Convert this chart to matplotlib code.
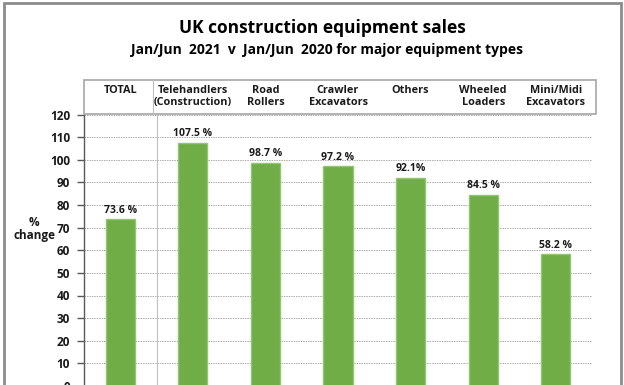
import matplotlib
matplotlib.use("Agg")
import matplotlib.pyplot as plt
from matplotlib.patches import Rectangle
from matplotlib.lines import Line2D

categories = ["TOTAL", "Telehandlers\n(Construction)", "Road\nRollers", "Crawler\nExcavators",
              "Others", "Wheeled\nLoaders", "Mini/Midi\nExcavators"]
values = [73.6, 107.5, 98.7, 97.2, 92.1, 84.5, 58.2]
value_labels = ["73.6 %", "107.5 %", "98.7 %", "97.2 %", "92.1%", "84.5 %", "58.2 %"]
yticks = list(range(0, 121, 10))

W, H = 624, 385
plt.rcParams['font.family'] = ['Open Sans', 'DejaVu Sans']
fig = plt.figure(figsize=(W / 100, H / 100), dpi=100)

def fx(px):
    return px / W

def fy(py):
    return 1 - py / H

ax_left, ax_right = 84, 592
ax_top, ax_bot = 114.5, 386
ax = fig.add_axes([fx(ax_left), fy(ax_bot), fx(ax_right - ax_left), (ax_bot - ax_top) / H])

x = list(range(len(categories)))
ax.bar(x, values, width=0.4, color="#70AD47", edgecolor="#93C572", linewidth=1, zorder=3)
for xi, v, lab in zip(x, values, value_labels):
    ax.annotate(lab, (xi, v), xytext=(0, 2.5), textcoords="offset points",
                ha="center", va="bottom", fontsize=7.5, fontweight="bold", color="#1a1a1a")

ax.set_xlim(-0.5, len(categories) - 0.5)
ax.set_ylim(0, 120)
ax.set_yticks(yticks)
ax.set_yticklabels([str(t) for t in yticks], fontsize=8.5, fontweight="bold", color="#1a1a1a")
ax.set_xticks([])
ax.yaxis.grid(True, color="#ABABAB", linestyle=(0, (1.5, 1)), linewidth=0.7, zorder=0)
ax.set_axisbelow(True)
for s in ["top", "right", "bottom"]:
    ax.spines[s].set_visible(False)
ax.spines["left"].set_color("#595959")
ax.spines["left"].set_linewidth(1)
ax.tick_params(axis="y", length=5, width=1, color="#595959", pad=5)

# separator line between TOTAL and the rest
ax.axvline(0.5, color="#BFBFBF", linewidth=0.8, zorder=1)

# header box
box_top, box_bot, box_right = 79.5, 114, 596
fig.add_artist(Rectangle((fx(ax_left), fy(box_bot)), fx(box_right - ax_left), (box_bot - box_top) / H,
                         transform=fig.transFigure, fill=False, edgecolor="#A6A6A6", linewidth=1.2))
fig.add_artist(Line2D([fx(152.8), fx(152.8)], [fy(box_top), fy(box_bot)], transform=fig.transFigure,
                      color="#BFBFBF", linewidth=0.8))
for xi, cat in zip(x, categories):
    xf = fig.transFigure.inverted().transform(ax.transData.transform((xi, 0)))[0]
    fig.text(xf, fy(85), cat, ha="center", va="top", fontsize=7.8, fontweight="bold",
             color="#1a1a1a", linespacing=1.1)

# y label
fig.text(fx(34), fy(229), "%\nchange", ha="center", va="center", fontsize=8.5, fontweight="bold",
         color="#1a1a1a", linespacing=1.1)

# titles
fig.text(fx(322), fy(28), "UK construction equipment sales", ha="center", va="center",
         fontsize=12.5, fontweight="bold", color="#000000")
fig.text(fx(327), fy(50), "Jan/Jun  2021  v  Jan/Jun  2020 for major equipment types", ha="center",
         va="center", fontsize=10, fontweight="bold", color="#000000")

# outer frame
fig.add_artist(Rectangle((fx(4), -0.05), fx(617), fy(3.5) + 0.05, transform=fig.transFigure,
                         fill=False, edgecolor="#8C8C8C", linewidth=2))

fig.savefig("out.png", dpi=100)
